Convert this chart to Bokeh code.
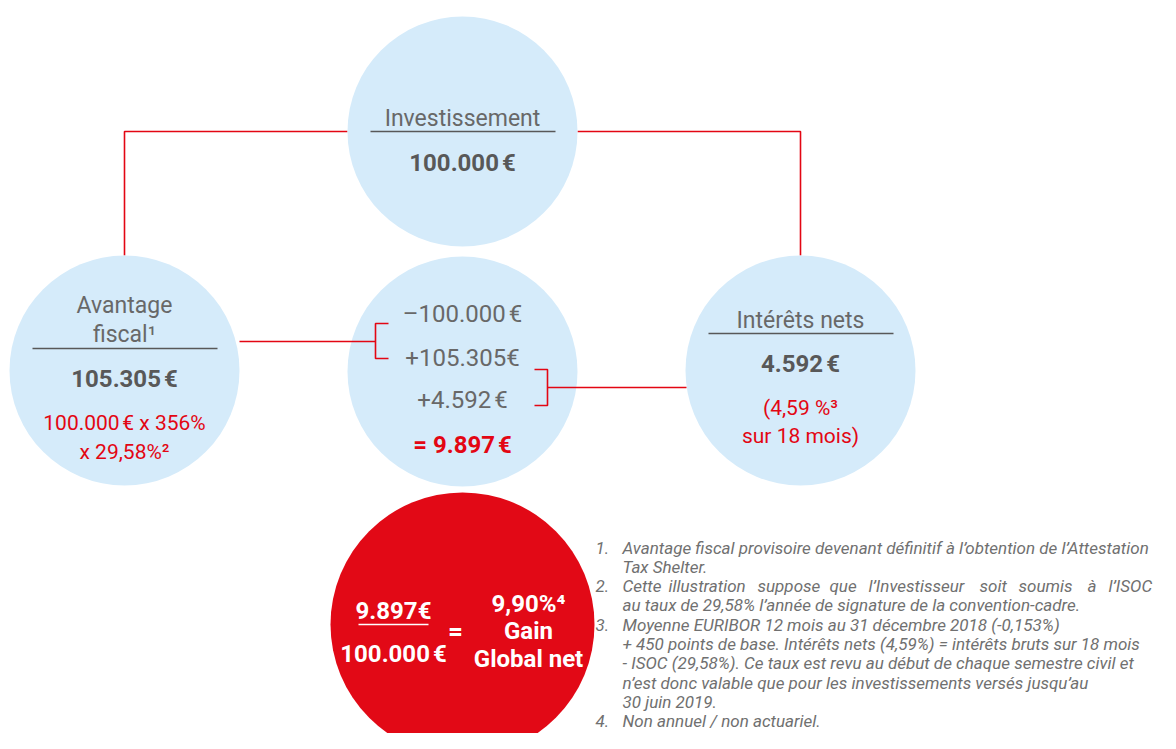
from bokeh.plotting import figure
from bokeh.models import Range1d
from bokeh.core.properties import value
from bokeh.embed import file_html
from bokeh.resources import INLINE

# ---------------- data ----------------
investment = 100000
tax_benefit = 105305
net_interest = 4592
net_gain = 9897
tax_shelter_rate = 356
isoc_rate = "29,58"
interest_rate = "4,59"
months = 18
gain_pct = "9,90"

def eur(v):
    return f"{v:,}".replace(",", ".")

NB = "\u202f"

label_invest = "Investissement"
label_tax = ["Avantage", "fiscal\u00b9"]
label_interest = "Intérêts nets"

footnote_lines = [
    "Avantage fiscal provisoire devenant définitif à l\u2019obtention de l\u2019Attestation",
    "Tax Shelter.",
    None,  # justified line (words below)
    "au taux de 29,58% l\u2019année de signature de la convention-cadre.",
    "Moyenne EURIBOR 12 mois au 31 décembre 2018 (-0,153%)",
    "+ 450 points de base. Intérêts nets (4,59%) = intérêts bruts sur 18 mois",
    "- ISOC (29,58%). Ce taux est revu au début de chaque semestre civil et",
    "n\u2019est donc valable que pour les investissements versés jusqu\u2019au",
    "30 juin 2019.",
    "Non annuel / non actuariel.",
]
footnote_nums = {0: "1.", 2: "2.", 4: "3.", 9: "4."}
justified_words = ["Cette", "illustration", "suppose", "que", "l\u2019Investisseur",
                   "soit", "soumis", "à", "l\u2019ISOC"]

# ---------------- style ----------------
BLUE = "#d5ebfa"
RED = "#e30613"
RED_FILL = "#e20916"
GREY = "#585858"
GREY_L = "#686868"
NOTE_GREY = "#707070"
FONT = value("Roboto")
NOTE_FONT = value("Roboto")

p = figure(width=1160, height=733, x_range=Range1d(0, 1160), y_range=Range1d(733, 0),
           output_backend="svg", toolbar_location=None, min_border=0)
p.axis.visible = False
p.grid.visible = False
p.outline_line_color = None
p.background_fill_color = "white"
p.border_fill_color = "white"

# connectors
p.line([124, 124, 347], [255, 131, 131], line_color=RED, line_width=1.6)
p.line([577, 800, 800], [131, 131, 255], line_color=RED, line_width=1.6)

# circles
p.circle(x=[462, 124, 462, 800], y=[131, 370, 371, 370], radius=115,
         fill_color=BLUE, line_color=None)
p.circle(x=[462], y=[624], radius=132, fill_color=RED_FILL, line_color=None)

# brackets in middle circle
p.line([239, 375], [341, 341], line_color=RED, line_width=1.6)
p.line([388, 375, 375, 388], [323, 323, 358, 358], line_color=RED, line_width=1.6)
p.line([534, 547, 547, 534], [369, 369, 405, 405], line_color=RED, line_width=1.6)
p.line([547, 686], [387, 387], line_color=RED, line_width=1.6)

# dividers
p.line([370, 555], [131, 131], line_color=GREY, line_width=1.5)
p.line([32, 217], [348, 348], line_color=GREY, line_width=1.5)
p.line([708, 893], [333, 333], line_color=GREY, line_width=1.5)
p.line([358, 428], [624, 624], line_color="white", line_width=1.5)

def txt(x, y, s, size, color, style="normal", align="center", font=FONT):
    p.text(x=[x], y=[y], text=[s], text_font=font, text_font_size=f"{size}px",
           text_color=color, text_font_style=style, text_align=align,
           text_baseline="alphabetic")

# top circle
txt(462, 118, label_invest, 23, GREY_L)
txt(462, 162, f"{eur(investment)}{NB}€", 24, GREY, "bold")

# left circle
txt(124, 305, label_tax[0], 23, GREY_L)
txt(124, 334, label_tax[1], 23, GREY_L)
txt(124, 378, f"{eur(tax_benefit)}{NB}€", 24, GREY, "bold")
txt(124, 422, f"{eur(investment)}{NB}€ x {tax_shelter_rate}%", 21, RED)
txt(124, 451, f"x {isoc_rate}%\u00b2", 21, RED)

# middle circle
txt(462, 313, f"\u2013{eur(investment)}{NB}€", 24, GREY_L)
txt(462, 357, f"+{eur(tax_benefit)}€", 24, GREY_L)
txt(462, 399, f"+{eur(net_interest)}{NB}€", 24, GREY_L)
txt(462, 444, f"= {eur(net_gain)}{NB}€", 24, RED, "bold")

# right circle
txt(800, 320, label_interest, 23, GREY_L)
txt(800, 363, f"{eur(net_interest)}{NB}€", 24, GREY, "bold")
txt(800, 407, f"({interest_rate} %\u00b3", 21, RED)
txt(800, 435, f"sur {months} mois)", 21, RED)

# red circle
txt(393, 610, f"{eur(net_gain)}€", 24, "white", "bold")
txt(393, 653, f"{eur(investment)}{NB}€", 24, "white", "bold")
txt(455, 630, "=", 26, "white", "bold")
txt(528, 603, f"{gain_pct}%\u2074", 24, "white", "bold")
txt(528, 630, "Gain", 24, "white", "bold")
txt(528, 658, "Global net", 24, "white", "bold")

# footnotes
NUM_X, TXT_X = 595, 622
note_y = [547 + 19.3 * i for i in range(10)]
for i, y in enumerate(note_y):
    if i in footnote_nums:
        txt(NUM_X, y, footnote_nums[i], 17, NOTE_GREY, "italic", "left", NOTE_FONT)
    if footnote_lines[i] is not None:
        txt(TXT_X, y, footnote_lines[i], 17, NOTE_GREY, "italic", "left", NOTE_FONT)
word_x = [622, 668, 757, 829, 868, 979, 1018, 1087, 1108]
for w, x in zip(justified_words, word_x):
    txt(x, note_y[2], w, 17, NOTE_GREY, "italic", "left", NOTE_FONT)

open("out.html", "w").write(file_html(p, INLINE))
